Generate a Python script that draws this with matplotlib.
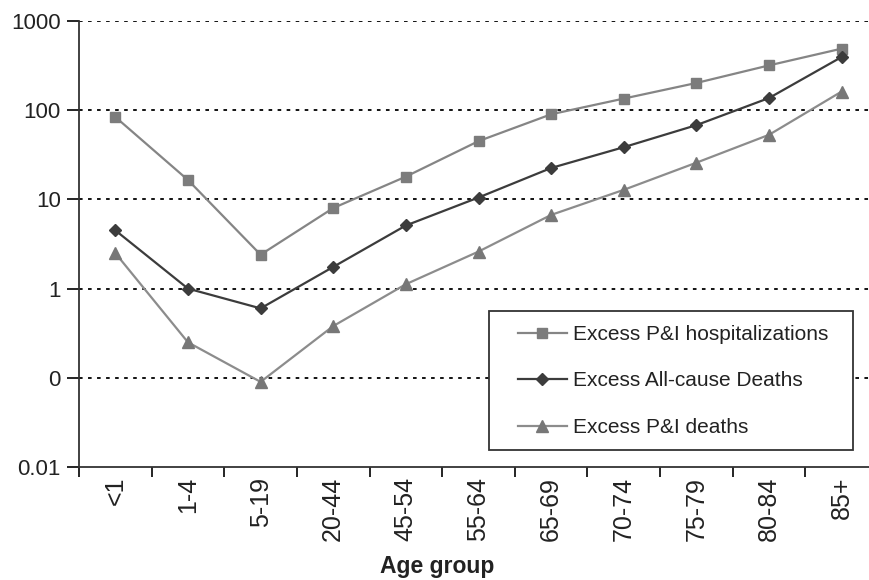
import numpy as np
import matplotlib
matplotlib.use("Agg")
import matplotlib.pyplot as plt
from matplotlib.patches import Rectangle
from matplotlib.ticker import FixedLocator, NullLocator

# age groups on the x axis
age_groups = ["<1", "1-4", "5-19", "20-44", "45-54", "55-64",
              "65-69", "70-74", "75-79", "80-84", "85+"]

# values
hosp = [84, 16.5, 2.4, 8.0, 18, 45, 90, 135, 202, 318, 490]
all_cause = [4.5, 1.0, 0.6, 1.75, 5.1, 10.5, 22.5, 38.5, 68, 137, 395]
pi_deaths = [2.5, 0.25, 0.09, 0.38, 1.12, 2.6, 6.7, 12.8, 25.8, 53, 162]

y_ticks = [0.01, 0.1, 1, 10, 100, 1000]
y_ticklabels = ["0.01", "0", "1", "10", "100", "1000"]

plt.rcParams['font.family'] = ['Liberation Sans', 'DejaVu Sans']

fig = plt.figure(figsize=(8.69, 5.8), dpi=100)
ax = fig.add_axes([79 / 869, 1 - 467 / 580, 799 / 869, 446 / 580])

x = np.arange(len(age_groups))

ax.plot(x, hosp, color="#858585", lw=1.6, marker="s", ms=6.5,
        mfc="#7c7c7c", mec="#7c7c7c", label="Excess P&I hospitalizations")
ax.plot(x, all_cause, color="#3c3c3c", lw=1.6, marker="D", ms=6.5,
        mfc="#3c3c3c", mec="#3c3c3c", label="Excess All-cause Deaths")
ax.plot(x, pi_deaths, color="#8c8c8c", lw=1.6, marker="^", ms=9,
        mfc="#777777", mec="#777777", label="Excess P&I deaths")

ax.set_yscale("log")
ax.set_ylim(0.01, 1000)
ax.set_xlim(-0.5, len(age_groups) - 0.5)

ax.yaxis.set_major_locator(FixedLocator(y_ticks))
ax.yaxis.set_minor_locator(NullLocator())
ax.set_yticklabels(y_ticklabels, fontsize=16, color="#222222")

# x ticks: labels at centres, tick marks at category boundaries
ax.set_xticks(x)
ax.set_xticklabels(age_groups, rotation=90, fontsize=18, color="#222222")
ax.set_xticks(np.arange(-0.5, len(age_groups)), minor=True)
ax.tick_params(axis="x", which="major", length=0, pad=7)
ax.tick_params(axis="x", which="minor", length=7, width=1.2, direction="out")
ax.tick_params(axis="y", which="major", length=9, width=1.2, direction="out", pad=4)

for v in y_ticks[1:]:
    ax.axhline(v, color="black", lw=1.3, ls=(0, (2, 3)), zorder=0)

for s in ["top", "right"]:
    ax.spines[s].set_visible(False)
for s in ["left", "bottom"]:
    ax.spines[s].set_linewidth(1.3)
    ax.spines[s].set_color("#333333")

fig.text(437 / 869, 1 - 566 / 580, "Age group", fontsize=16.5,
         fontweight="bold", ha="center", va="center", color="#222222")

# legend box drawn by hand so the inner left padding can match
ax.add_patch(Rectangle(((489 - 79) / 799, (467 - 450) / 446),
                       (853 - 489) / 799, (450 - 311) / 446,
                       transform=ax.transAxes, facecolor="white",
                       edgecolor="#333333", lw=1.3, zorder=4))
leg = ax.legend(loc="upper left", bbox_to_anchor=((518 - 79) / 799, (467 - 325) / 446),
                fontsize=15, frameon=False, handlelength=2.35,
                handletextpad=0.3, labelspacing=1.32, borderpad=0,
                borderaxespad=0)
leg.set_zorder(5)
for t in leg.get_texts():
    t.set_color("#222222")

fig.savefig("out.png", dpi=100)
